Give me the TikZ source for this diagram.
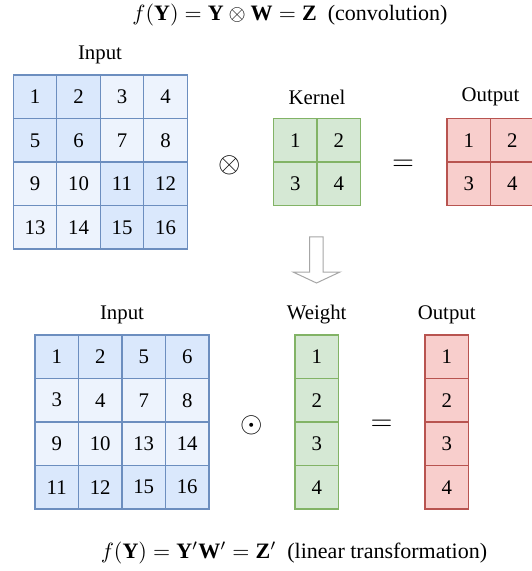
\documentclass[tikz,border=0pt]{standalone}
\usepackage{amsmath}
\usepackage{fix-cm}
\usepackage{fontspec}
\setmainfont{Liberation Serif}
\usetikzlibrary{positioning}

\definecolor{blueFill}{HTML}{DAE8FC}
\definecolor{blueLight}{HTML}{EDF3FD}
\definecolor{blueLine}{HTML}{6C8EBF}
\definecolor{greenFill}{HTML}{D5E8D4}
\definecolor{greenLine}{HTML}{82B366}
\definecolor{redFill}{HTML}{F8CECC}
\definecolor{redLine}{HTML}{B85450}

\begin{document}
\begin{tikzpicture}[
    x = 0.5pt, y = -0.5pt, % one unit is one pixel of the picture
    every node/.style = {font = \fontsize{10.4}{12}\selectfont},
    cell/.style = {draw, minimum size = 21.75pt, inner sep = 0pt,
                   outer sep = 0pt, line width = 0.6pt},
    inCell/.style = {cell, draw = blueLine},
    kernCell/.style = {cell, draw = greenLine, fill = greenFill},
    outCell/.style = {cell, draw = redLine, fill = redFill},
    op/.style = {font = \Large},
    formula/.style = {font = \fontsize{11}{13}\selectfont, inner sep = 1pt}
    ]

    \useasboundingbox (0,0) rectangle (531,571);

    % convolution
    \node[formula] (title1) at (290,15) {$f(\mathbf{Y}) = \mathbf{Y} \otimes \mathbf{W} = \mathbf{Z}$\ \ (convolution)};

    \foreach \v [count=\i from 0] in {1,...,16} {
        \pgfmathtruncatemacro\r{floor(\i/4)}
        \pgfmathtruncatemacro\c{mod(\i,4)}
        \pgfmathtruncatemacro\dk{floor(\r/2)==floor(\c/2)}
        \ifnum\dk=1 \def\fc{blueFill}\else\def\fc{blueLight}\fi
        \node[inCell, fill=\fc] (a\v) at (35+43.5*\c, 96.8+43.5*\r) {\v};
    }
    \node (inLbl1) at (100,55) {Input};

    \foreach \v [count=\i from 0] in {1,...,4} {
        \pgfmathtruncatemacro\r{floor(\i/2)}
        \pgfmathtruncatemacro\c{mod(\i,2)}
        \node[kernCell] (k\v) at (295.2+43.5*\c, 140.2+43.5*\r) {\v};
        \node[outCell] (z\v) at (468.7+43.5*\c, 140.2+43.5*\r) {\v};
    }
    \node (kLbl) at (317,97) {Kernel};
    \node (zLbl1) at (490.5,97) {Output};

    \node[op] (conv) at (230,165) {$\otimes$};
    \node[op] (eq1) at (403,165) {$=$};

    % down arrow
    \draw[gray!70, fill=white, line width=0.5pt]
        (309.5,237) -- (323,237) -- (323,272) -- (340,272) -- (316.5,283)
        -- (293,272) -- (309.5,272) -- cycle;

    % linear transformation
    \foreach \v [count=\i from 0] in {1,2,5,6,3,4,7,8,9,10,13,14,11,12,15,16} {
        \pgfmathtruncatemacro\r{floor(\i/4)}
        \pgfmathtruncatemacro\c{mod(\i,4)}
        \ifnum\r=1 \def\fc{blueLight}\else\ifnum\r=2 \def\fc{blueLight}\else\def\fc{blueFill}\fi\fi
        \node[inCell, fill=\fc] (b\v) at (56.7+43.5*\c, 356.7+43.5*\r) {\v};
    }
    \node (inLbl2) at (122,315) {Input};

    \foreach \v [count=\i from 0] in {1,...,4} {
        \node[kernCell] (w\v) at (316.7, 356.7+43.5*\i) {\v};
        \node[outCell] (y\v) at (446.7, 356.7+43.5*\i) {\v};
    }
    \node (wLbl) at (316.7,315) {Weight};
    \node (zLbl2) at (446.7,315) {Output};

    \node[op] (had) at (251.7,425) {$\odot$};
    \node[op] (eq2) at (381.7,425) {$=$};

    \node[formula] (title2) at (294,553) {$f(\mathbf{Y}) = \mathbf{Y}'\mathbf{W}' = \mathbf{Z}'$\ \ (linear transformation)};
\end{tikzpicture}
\end{document}
